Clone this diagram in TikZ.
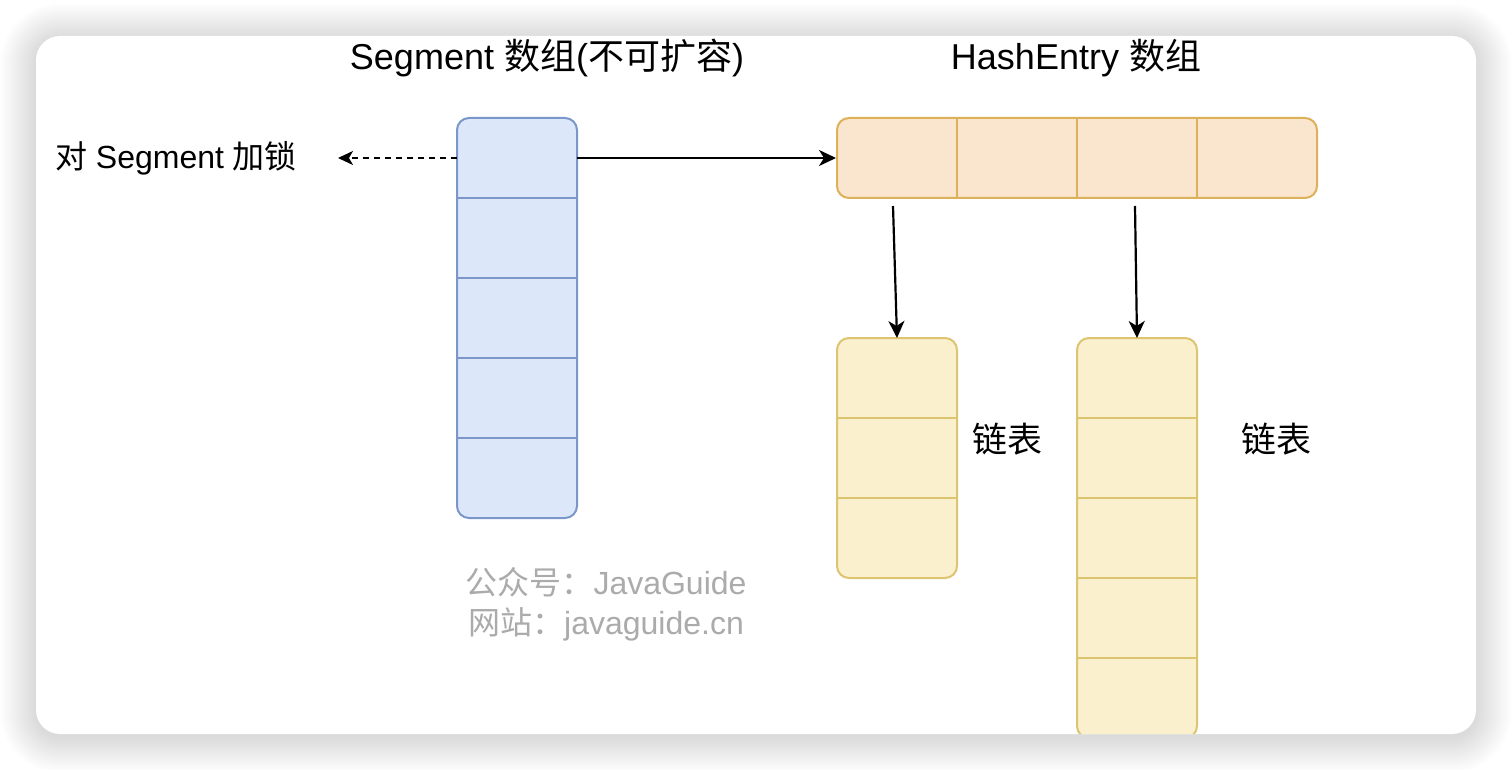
\documentclass[tikz,border=0pt]{standalone}
\usepackage{fontspec}
\setmainfont{Liberation Sans}
\newfontfamily\cjk{Noto Sans CJK SC}
\usetikzlibrary{arrows.meta,calc}
\definecolor{segfill}{HTML}{DCE7FA}
\definecolor{segline}{HTML}{7B97C9}
\definecolor{hashfill}{HTML}{FAE6CF}
\definecolor{hashline}{HTML}{DDB05A}
\definecolor{listfill}{HTML}{FBF0CD}
\definecolor{listline}{HTML}{DCC470}
\definecolor{wmgray}{HTML}{ABABAB}
\newcommand\fsz[1]{\fontsize{#1}{#1}\selectfont}
\begin{document}
\begin{tikzpicture}[x=1pt,y=-1pt,
  segbox/.style={draw=segline,fill=segfill,line width=2pt,rounded corners=12pt,inner sep=0pt},
  hashbox/.style={draw=hashline,fill=hashfill,line width=2pt,rounded corners=12pt,inner sep=0pt},
  listbox/.style={draw=listline,fill=listfill,line width=2pt,rounded corners=12pt,inner sep=0pt},
  cellnode/.style={inner sep=0pt,outer sep=0pt,minimum width=120pt,minimum height=80pt},
  arr/.style={line width=2.2pt,-{Stealth[length=17pt,width=16pt,inset=5pt]}},
  darr/.style={line width=1.6pt,dash pattern=on 6pt off 5pt,-{Stealth[length=15pt,width=14pt,inset=4pt]}},
  lbl/.style={inner sep=0pt,anchor=base,text=black},
  wm/.style={inner sep=0pt,anchor=base,text=wmgray,font=\fsz{32}}
]
\useasboundingbox (0,0) rectangle (1512,770);
\fill[white] (0,0) rectangle (1512,770);
% card shadow
\foreach \i in {1,...,36}{
  \pgfmathsetmacro\rr{24+\i}
  \fill[black,opacity=0.0045,rounded corners=\rr pt] (36-\i,39-\i) rectangle (1476+\i,737+\i);
}
\fill[white,rounded corners=24pt] (36,36) rectangle (1476,734);
\begin{scope}
\clip[rounded corners=24pt] (36,36) rectangle (1476,734);

% Segment array
\node[segbox,minimum width=120pt,minimum height=400pt] (seg) at (517,318) {};
\foreach \k/\yy in {1/158,2/238,3/318,4/398,5/478}{
  \node[cellnode] (s\k) at (517,\yy) {};
}
\foreach \k in {1,...,4}{
  \draw[segline,line width=2pt] (s\k.south west) -- (s\k.south east);
}

% HashEntry array
\node[hashbox,minimum width=480pt,minimum height=80pt] (hash) at (1077,158) {};
\foreach \k/\xx in {1/897,2/1017,3/1137,4/1257}{
  \node[cellnode] (h\k) at (\xx,158) {};
}
\foreach \k in {1,...,3}{
  \draw[hashline,line width=2pt] (h\k.north east) -- (h\k.south east);
}

% list A
\node[listbox,minimum width=120pt,minimum height=240pt] (lista) at (897,458) {};
\foreach \k/\yy in {1/378,2/458,3/538}{
  \node[cellnode] (a\k) at (897,\yy) {};
}
\foreach \k in {1,2}{
  \draw[listline,line width=2pt] (a\k.south west) -- (a\k.south east);
}

% list B
\node[listbox,minimum width=120pt,minimum height=400pt] (listb) at (1137,538) {};
\foreach \k/\yy in {1/378,2/458,3/538,4/618,5/698}{
  \node[cellnode] (b\k) at (1137,\yy) {};
}
\foreach \k in {1,...,4}{
  \draw[listline,line width=2pt] (b\k.south west) -- (b\k.south east);
}

% connectors
\draw[arr] (s1.east) -- (hash.west);
\coordinate (lockend) at (338,158);
\draw[darr] (s1.west) -- (lockend);
\draw[arr] ([xshift=-4pt,yshift=-8pt]h1.south) -- (a1.north);
\draw[arr] ([xshift=-2pt,yshift=-8pt]h3.south) -- (b1.north);

% labels
\node[lbl,font=\fsz{36}] (t1) at (547,70) {Segment {\cjk 数组}({\cjk 不可扩容})};
\node[lbl,font=\fsz{36}] (t2) at (1076,70) {HashEntry {\cjk 数组}};
\node[lbl,font=\fsz{32}] (lock) at (176,169) {{\cjk 对} Segment {\cjk 加锁}};
\node[lbl,font=\fsz{35}] (la) at (1007,452) {\cjk 链表};
\node[lbl,font=\fsz{35}] (lb) at (1276,452) {\cjk 链表};
\node[wm] (wm1) at (606,594) {{\cjk 公众号：}JavaGuide};
\node[wm] (wm2) at (606,634) {{\cjk 网站：}javaguide.cn};
\end{scope}
\end{tikzpicture}
\end{document}
